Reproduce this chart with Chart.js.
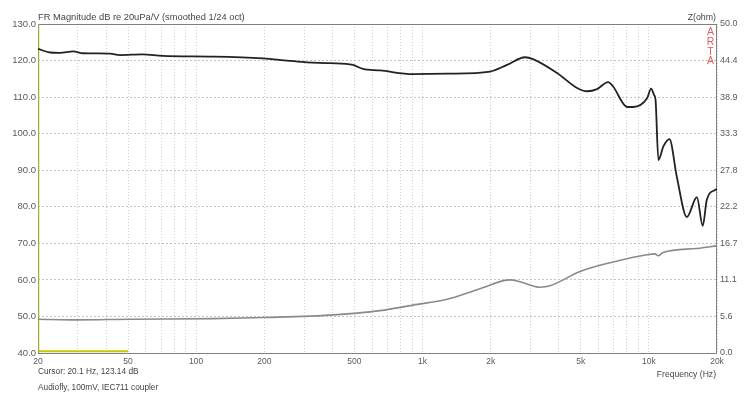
<!DOCTYPE html>
<html><head><meta charset="utf-8">
<script src="https://cdn.jsdelivr.net/npm/chart.js@4/dist/chart.umd.min.js"></script>
<style>html,body{margin:0;padding:0;background:#fff}#wrap{width:750px;height:393px}</style>
</head><body><div id="wrap"><canvas id="c" width="750" height="393"></canvas></div>
<script>
// Frequency response (dB re 20uPa/V)
const frFreq = [20,22.6,25,28.6,31.6,41.6,46,58,71,119,197,252,309,390,493,546,649,908,1284,1988,2361,2838,3076,3929,4820,5334,5905,6608,6950,8020,8520,9820,10230,10540,10700,11020,11590,12330,13280,14720,16300,17300,18030,19620,20000];
const frDb   = [123.2,122.2,122.1,122.5,122.0,121.9,121.5,121.7,121.3,121.1,120.6,120.0,119.5,119.3,118.8,117.7,117.3,116.3,116.4,117.0,118.8,120.9,120.4,116.6,112.5,111.6,112.2,114.1,112.9,107.3,107.3,109.7,112.3,110.6,109.3,92.8,96.5,98.5,88.3,77.2,82.6,74.8,81.9,84.6,84.8];
// Impedance (ohm)
const zFreq = [20,29.7,51,119,197,297,390,514,649,908,1284,1796,2437,2698,3305,3660,4966,6950,9820,10650,10990,11560,16330,20000];
const zOhm  = [5.14,5.03,5.14,5.22,5.39,5.56,5.75,6.06,6.44,7.28,8.17,9.78,11.11,10.83,10.0,10.22,12.39,13.83,14.94,15.06,14.78,15.28,15.89,16.28];
// Cursor markers
const cursorFreq = 20.1;
const markerFreq = [20,50];
const markerDb = [40.5,40.5];
// Axis ticks
const xTicks = [20,30,40,50,60,70,80,90,100,200,300,400,500,600,700,800,900,1000,2000,3000,4000,5000,6000,7000,8000,9000,10000,20000];
const xLabeled = {20:'20',50:'50',100:'100',200:'200',500:'500',1000:'1k',2000:'2k',5000:'5k',10000:'10k',20000:'20k'};
const yTicks = [40,50,60,70,80,90,100,110,120,130];
const zTicks = [0,1,2,3,4,5,6,7,8,9].map(i=>i*50/9);

const FAM = 'Arial, "Liberation Sans", sans-serif';
const TXT = '#5a5a5a';

const framePlugin = {
  id:'frame',
  beforeDatasetsDraw(chart){
    const {ctx, chartArea:a} = chart;
    ctx.save();
    ctx.strokeStyle = '#808080'; ctx.lineWidth = 1;
    ctx.strokeRect(a.left+0.5, a.top+0.5, a.right-a.left-1, a.bottom-a.top);
    ctx.restore();
  },
  afterDraw(chart){
    const {ctx} = chart;
    ctx.save();
    ctx.fillStyle = '#444'; ctx.textBaseline = 'middle';
    ctx.textAlign = 'left';
    ctx.font = '9.3px ' + FAM;
    ctx.fillText('FR Magnitude dB re 20uPa/V (smoothed 1/24 oct)', 38, 17);
    ctx.font = '8.3px ' + FAM;
    ctx.fillText('Cursor: 20.1 Hz, 123.14 dB', 38, 372);
    ctx.fillText('Audiofly, 100mV, IEC711 coupler', 38, 388);
    ctx.textAlign = 'right';
    ctx.font = '8.8px ' + FAM;
    ctx.fillText('Z(ohm)', 716, 18);
    ctx.font = '8.6px ' + FAM;
    ctx.fillText('Frequency (Hz)', 716, 375);
    ctx.fillStyle = '#e06060'; ctx.textAlign = 'center';
    ctx.font = '10.5px ' + FAM;
    ['A','R','T','A'].forEach((ch,i)=>ctx.fillText(ch, 710.5, 32.5+i*9.6));
    ctx.restore();
  }
};

new Chart(document.getElementById('c'), {
  type:'line',
  data:{datasets:[
    {label:'Z', data:zFreq.map((f,i)=>({x:f,y:zOhm[i]})), borderColor:'#8a8a8a', borderWidth:1.6, pointRadius:0, cubicInterpolationMode:'monotone', yAxisID:'z'},
    {label:'FR', data:frFreq.map((f,i)=>({x:f,y:frDb[i]})), borderColor:'#222', borderWidth:1.8, pointRadius:0, cubicInterpolationMode:'monotone', yAxisID:'y'},
    {label:'cursor', data:[{x:cursorFreq,y:40},{x:cursorFreq,y:130}], borderColor:'#a8a840', borderWidth:1.5, pointRadius:0, yAxisID:'y'},
    {label:'marker', data:markerFreq.map((f,i)=>({x:f,y:markerDb[i]})), borderColor:'#c8c800', borderWidth:2, pointRadius:0, yAxisID:'y'}
  ]},
  options:{
    responsive:false, animation:false, events:[],
    layout:{padding:{top:24,left:0,right:0,bottom:0}},
    plugins:{legend:{display:false}, tooltip:{enabled:false}},
    scales:{
      x:{type:'logarithmic', min:20, max:20000,
        afterBuildTicks(s){ s.ticks = xTicks.map(v=>({value:v})); },
        afterFit(s){ s.height = 40; },
        ticks:{autoSkip:false, maxRotation:0, padding:4, color:TXT, font:{family:FAM,size:8.5}, callback:(v)=>xLabeled[v]||''},
        grid:{color:'#cfcfcf', drawTicks:false, lineWidth:1},
        border:{display:false, dash:[1,2]}
      },
      y:{type:'linear', position:'left', min:40, max:130,
        afterBuildTicks(s){ s.ticks = yTicks.map(v=>({value:v})); },
        afterFit(s){ s.width = 38; },
        ticks:{padding:2, color:TXT, font:{family:FAM,size:9.5}, callback:(v)=>Number(v).toFixed(1)},
        grid:{color:'#c4c4c4', drawTicks:false},
        border:{display:false, dash:[2,2]}
      },
      z:{type:'linear', position:'right', min:0, max:50,
        afterBuildTicks(s){ s.ticks = zTicks.map(v=>({value:v})); },
        afterFit(s){ s.width = 33; },
        ticks:{padding:3, color:TXT, font:{family:FAM,size:9}, callback:(v)=>Number(v).toFixed(1)},
        grid:{display:false, drawTicks:false},
        border:{display:false}
      }
    }
  },
  plugins:[framePlugin]
});
</script></body></html>
